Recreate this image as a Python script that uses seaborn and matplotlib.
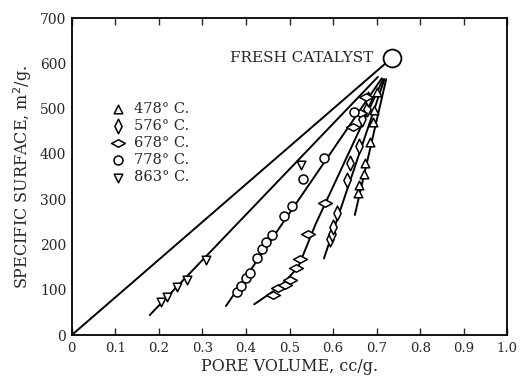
import matplotlib
matplotlib.use("Agg")
import matplotlib.pyplot as plt
import seaborn as sns
import pandas as pd
from matplotlib.markers import MarkerStyle
from matplotlib.transforms import Affine2D

# ---- data ----
labels = ["478° C.", "576° C.", "678° C.", "778° C.", "863° C."]
markers = ["^", "d", "D", "o", "v"]

pv_478 = [0.658, 0.660, 0.670, 0.674, 0.685, 0.691, 0.694, 0.700]
ss_478 = [313, 331, 355, 380, 427, 471, 497, 537]

pv_576 = [0.593, 0.597, 0.600, 0.610, 0.631, 0.639, 0.660, 0.666, 0.677, 0.681]
ss_576 = [213, 224, 239, 269, 342, 379, 417, 478, 500, 522]

pv_678 = [0.463, 0.474, 0.490, 0.501, 0.516, 0.523, 0.543, 0.582, 0.645, 0.662, 0.675]
ss_678 = [88, 103, 110, 121, 147, 167, 224, 292, 460, 490, 525]

pv_778 = [0.380, 0.388, 0.400, 0.410, 0.425, 0.437, 0.447, 0.460, 0.488, 0.505, 0.532, 0.579, 0.648]
ss_778 = [95, 108, 125, 138, 170, 190, 205, 220, 262, 285, 344, 391, 493]

pv_863 = [0.206, 0.218, 0.241, 0.264, 0.308, 0.527]
ss_863 = [74, 85, 105, 121, 165, 375]

# fitted curves drawn through each series
curve_pv = {
    "origin": [0.0, 0.728],
    "863": [0.179, 0.703],
    "778": [0.354, 0.712],
    "678": [0.419, 0.445, 0.48, 0.52, 0.56, 0.715],
    "576": [0.579, 0.718],
    "478": [0.650, 0.722],
}
curve_ss = {
    "origin": [0, 606],
    "863": [44, 570],
    "778": [64, 567],
    "678": [68, 85, 108, 150, 245, 565],
    "576": [169, 565],
    "478": [265, 565],
}

fresh_pv = [0.735]
fresh_ss = [612]

x_ticks = [0, 0.1, 0.2, 0.3, 0.4, 0.5, 0.6, 0.7, 0.8, 0.9, 1.0]
x_ticklabels = ["0", "0.1", "0.2", "0.3", "0.4", "0.5", "0.6", "0.7", "0.8", "0.9", "1.0"]
y_ticks = [0, 100, 200, 300, 400, 500, 600, 700]

# ---- plot ----
sns.set_theme(style="white")
plt.rcParams["font.family"] = ["DejaVu Serif"]

fig = plt.figure(figsize=(5.24, 3.79), dpi=100)
ax = fig.add_axes([0.137, 0.116, 0.831, 0.8365])

for key in curve_pv:
    cdf = pd.DataFrame({"pv": curve_pv[key], "ss": curve_ss[key]})
    sns.lineplot(data=cdf, x="pv", y="ss", sort=False, estimator=None,
                 color="black", linewidth=1.4, ax=ax)

series = [(pv_478, ss_478), (pv_576, ss_576), (pv_678, ss_678),
          (pv_778, ss_778), (pv_863, ss_863)]
sizes = [38, 42, 34, 42, 38]
for (pv, ss), lab, mk, sz in zip(series, labels, markers, sizes):
    df = pd.DataFrame({"pv": pv, "ss": ss})
    sns.scatterplot(data=df, x="pv", y="ss", marker=mk, s=sz,
                    facecolor="white", edgecolor="black", linewidth=1.1,
                    label=lab, ax=ax, zorder=3)

# wide diamonds for 678, tall diamonds for 576
wide = MarkerStyle("D", transform=Affine2D().scale(1.2, 0.65))
wide_path = wide.get_path().transformed(wide.get_transform())
ax.collections[2].set_paths([wide_path])
tall = MarkerStyle("d", transform=Affine2D().scale(0.95, 1.15))
tall_path = tall.get_path().transformed(tall.get_transform())
ax.collections[1].set_paths([tall_path])

sns.scatterplot(x=fresh_pv, y=fresh_ss, marker="o", s=165, facecolor="white",
                edgecolor="black", linewidth=1.3, ax=ax, zorder=4)
ax.text(0.692, 612, "FRESH CATALYST", ha="right", va="center", fontsize=11)

ax.set_xlim(0, 1.0)
ax.set_ylim(0, 700)
ax.set_xticks(x_ticks)
ax.set_xticklabels(x_ticklabels, fontsize=9.5)
ax.set_yticks(y_ticks)
ax.set_yticklabels([str(v) for v in y_ticks], fontsize=10)
ax.set_xlabel("PORE VOLUME, cc/g.", fontsize=11.5, labelpad=2)
ax.set_ylabel("SPECIFIC SURFACE, m$^2$/g.", fontsize=11.5, labelpad=4)

ax.tick_params(axis="x", direction="in", length=5, width=1, top=True,
               bottom=True, pad=5)
ax.tick_params(axis="y", direction="in", length=0, pad=4)
for sp in ax.spines.values():
    sp.set_color("black")
    sp.set_linewidth(1.3)

leg = ax.legend(loc="upper left", bbox_to_anchor=(0.06, 0.755), frameon=False,
                fontsize=10.5, handletextpad=0.1, labelspacing=0.22,
                borderaxespad=0, markerscale=1.0)
# keep legend markers in the same custom shapes
handles = leg.legend_handles
handles[2].set_paths([wide_path])
handles[1].set_paths([tall_path])

fig.savefig("out.png", dpi=100)
